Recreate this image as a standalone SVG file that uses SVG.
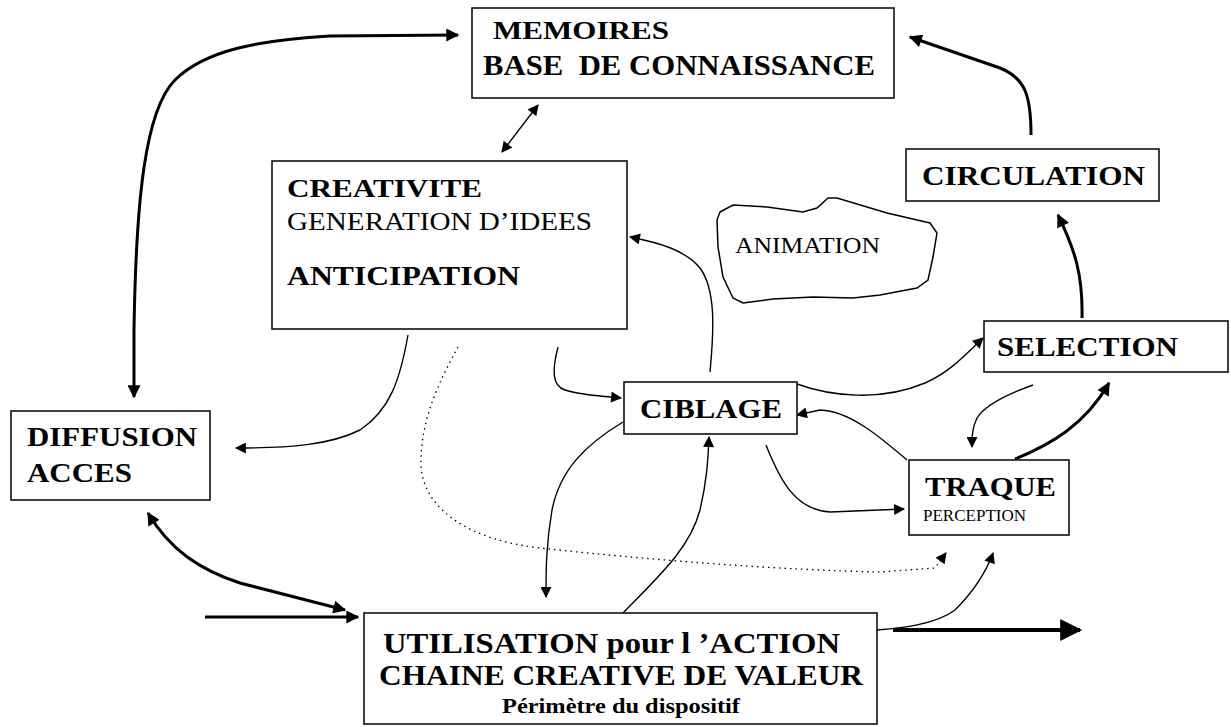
<svg xmlns="http://www.w3.org/2000/svg" width="1231" height="727" viewBox="0 0 1231 727">
<style>
.box{fill:#fff;stroke:#111;stroke-width:1.6}
.t{font-family:"Liberation Serif","Times New Roman",serif;fill:#000}
.b{font-weight:bold}
.thick{fill:none;stroke:#000;stroke-width:3}
.thin{fill:none;stroke:#000;stroke-width:1.4}
.dot{fill:none;stroke:#000;stroke-width:1.3;stroke-dasharray:1.5 4}
</style>
<defs>
<marker id="ah" viewBox="0 0 10 10" refX="9" refY="5" markerUnits="userSpaceOnUse" markerWidth="15" markerHeight="13" orient="auto-start-reverse"><path d="M0,0 L10,5 L0,10 z" fill="#000"/></marker>
<marker id="ahs" viewBox="0 0 10 10" refX="9" refY="5" markerUnits="userSpaceOnUse" markerWidth="12" markerHeight="11" orient="auto-start-reverse"><path d="M0,0 L10,5 L0,10 z" fill="#000"/></marker>
<marker id="ahb" viewBox="0 0 10 10" refX="9" refY="5" markerUnits="userSpaceOnUse" markerWidth="28" markerHeight="22" orient="auto"><path d="M0,0 L10,5 L0,10 z" fill="#000"/></marker>
</defs>

<g id="connectors">
<path class="thick" d="M134,397 L134,330 C136,200 145,110 175,80 C205,50 260,40 330,36 L458,35" marker-start="url(#ah)" marker-end="url(#ah)"/>
<path class="thin" d="M502,152 L538,105" marker-start="url(#ahs)" marker-end="url(#ahs)"/>
<path class="thick" d="M1031,135 C1031,95 1025,78 1000,68 L910,37" marker-end="url(#ah)"/>
<path class="thick" d="M1082,318 C1083,275 1075,250 1058,215" marker-end="url(#ah)"/>
<path class="thick" d="M1015,459 C1050,445 1085,425 1109,383" marker-end="url(#ah)"/>
<path class="thin" d="M1033,385 C1005,395 985,405 977,418 C972,428 972,437 972,447" marker-end="url(#ahs)"/>
<path class="thin" d="M797,384 C830,396 880,402 925,383 C950,372 965,355 983,338" marker-end="url(#ahs)"/>
<path class="thin" d="M907,460 C880,437 850,411 820,410 L797,415" marker-end="url(#ahs)"/>
<path class="thin" d="M766,445 C780,480 795,510 830,512 L904,509" marker-end="url(#ahs)"/>
<path class="thin" d="M558,347 C552,370 552,386 565,390 C580,395 600,396 621,398" marker-end="url(#ahs)"/>
<path class="thin" d="M623,422 C585,445 560,470 552,510 C546,545 546,570 546,597" marker-end="url(#ahs)"/>
<path class="thin" d="M622,614 C660,575 690,548 700,510 C707,480 708,460 709,437" marker-end="url(#ahs)"/>
<path class="thin" d="M710,372 C714,330 716,290 700,268 C685,250 660,243 630,237" marker-end="url(#ahs)"/>
<path class="thin" d="M408,335 C400,380 390,410 360,430 C330,445 290,448 236,448" marker-end="url(#ahs)"/>
<path class="dot" d="M458,347 C440,380 420,420 421,465 C423,510 470,540 540,548 C650,560 780,570 880,572 L935,568 L946,553" marker-end="url(#ahs)"/>
<path class="thin" d="M877,630 C900,628 935,625 955,610 C970,595 985,575 993,553" marker-end="url(#ahs)"/>
<path class="thick" d="M205,617 L358,617" marker-end="url(#ah)"/>
<path class="thick" style="stroke-width:4" d="M893,630 L1080,630" marker-end="url(#ahb)"/>
<path class="thick" d="M148,513 C170,550 200,570 240,583 L345,610" marker-start="url(#ah)" marker-end="url(#ah)"/>
</g>

<g id="memoires">
<rect class="box" x="472" y="8" width="422" height="90"/>
<text class="t b" x="493" y="39" font-size="26" textLength="176" lengthAdjust="spacingAndGlyphs">MEMOIRES</text>
<text class="t b" x="483" y="75" font-size="30" textLength="392" lengthAdjust="spacingAndGlyphs" xml:space="preserve">BASE  DE CONNAISSANCE</text>
</g>

<g id="creativite">
<rect class="box" x="272" y="161" width="355" height="168"/>
<text class="t b" x="287" y="197" font-size="26" textLength="195" lengthAdjust="spacingAndGlyphs">CREATIVITE</text>
<text class="t" x="287" y="230" font-size="26" textLength="305" lengthAdjust="spacingAndGlyphs">GENERATION D’IDEES</text>
<text class="t b" x="287" y="285" font-size="28" textLength="233" lengthAdjust="spacingAndGlyphs">ANTICIPATION</text>
</g>

<g id="animation">
<path fill="none" stroke="#000" stroke-width="1.5" d="M720,212 L733,205 L767,207 L803,212 L817,208 L828,198 L837,198 L887,213 L930,223 L937,233 L933,257 L928,280 L917,288 L880,295 L853,298 L813,297 L773,299 L743,303 L733,298 L723,277 L718,247 L717,220 Z"/>
<text class="t" x="735" y="253" font-size="23" textLength="145" lengthAdjust="spacingAndGlyphs">ANIMATION</text>
</g>

<g id="circulation">
<rect class="box" x="906" y="149" width="253" height="52"/>
<text class="t b" x="922" y="185" font-size="27" textLength="223" lengthAdjust="spacingAndGlyphs">CIRCULATION</text>
</g>

<g id="selection">
<rect class="box" x="984" y="321" width="244" height="51"/>
<text class="t b" x="997" y="356" font-size="27" textLength="181" lengthAdjust="spacingAndGlyphs">SELECTION</text>
</g>

<g id="ciblage">
<rect class="box" x="624" y="382" width="173" height="52"/>
<text class="t b" x="640" y="418" font-size="27" textLength="142" lengthAdjust="spacingAndGlyphs">CIBLAGE</text>
</g>

<g id="traque">
<rect class="box" x="909" y="460" width="160" height="75"/>
<text class="t b" x="925" y="496" font-size="27" textLength="131" lengthAdjust="spacingAndGlyphs">TRAQUE</text>
<text class="t" x="923" y="521" font-size="16" textLength="103" lengthAdjust="spacingAndGlyphs">PERCEPTION</text>
</g>

<g id="diffusion">
<rect class="box" x="11" y="411" width="199" height="89"/>
<text class="t b" x="27" y="446" font-size="27" textLength="170" lengthAdjust="spacingAndGlyphs">DIFFUSION</text>
<text class="t b" x="27" y="482" font-size="27" textLength="105" lengthAdjust="spacingAndGlyphs">ACCES</text>
</g>

<g id="utilisation">
<rect class="box" x="364" y="613" width="513" height="111"/>
<text class="t b" x="383" y="653" font-size="30" textLength="457" lengthAdjust="spacingAndGlyphs">UTILISATION pour l ’ACTION</text>
<text class="t b" x="379" y="685" font-size="30" textLength="484" lengthAdjust="spacingAndGlyphs">CHAINE CREATIVE DE VALEUR</text>
<text class="t b" x="502" y="713" font-size="22" textLength="238" lengthAdjust="spacingAndGlyphs">Périmètre du dispositif</text>
</g>
</svg>
